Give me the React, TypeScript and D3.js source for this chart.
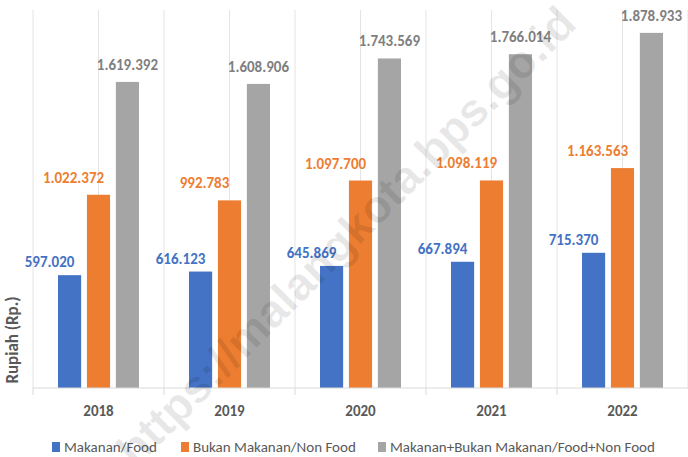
import React from "react";
import * as d3 from "d3";

const years = ["2018", "2019", "2020", "2021", "2022"];
const seriesNames = [
  "Makanan/Food",
  "Bukan Makanan/Non Food",
  "Makanan+Bukan Makanan/Food+Non Food",
];
const food = [597020, 616123, 645869, 667894, 715370];
const nonFood = [1022372, 992783, 1097700, 1098119, 1163563];
const total = [1619392, 1608906, 1743569, 1766014, 1878933];
const labelsFood = ["597.020", "616.123", "645.869", "667.894", "715.370"];
const labelsNonFood = ["1.022.372", "992.783", "1.097.700", "1.098.119", "1.163.563"];
const labelsTotal = ["1.619.392", "1.608.906", "1.743.569", "1.766.014", "1.878.933"];
const yTitle = "Rupiah (Rp.)";
const watermark = "https://malangkota.bps.go.id";

const W = 688;
const H = 457;
const barColors = ["#4472C4", "#ED7D31", "#A5A5A5"];
const labelColors = ["#4472C4", "#ED7D31", "#7F7F7F"];
const labelDx = [-20, -25, 0];
const labelGap = [8, 12, 12];
const FONT = "Carlito, Calibri, 'Liberation Sans Narrow', 'Liberation Sans', sans-serif";

export default function App() {
  const plotLeft = 33;
  const plotRight = 688;
  const plotTop = 10;
  const plotBottom = 388;

  const x = d3.scaleBand<string>().domain(years).range([plotLeft, plotRight]).padding(0);
  const bw = x.bandwidth();
  const inner = d3
    .scaleBand<number>()
    .domain([0, 1, 2])
    .range([bw / 2 - 40.5, bw / 2 + 40.5])
    .paddingInner(0.2)
    .paddingOuter(0);
  const y = d3.scaleLinear().domain([0, 2000000]).range([plotBottom, plotTop]);

  const series = [food, nonFood, total];
  const labels = [labelsFood, labelsNonFood, labelsTotal];

  const gridXs: number[] = [];
  years.forEach((yr) => {
    gridXs.push(x(yr)!);
    gridXs.push(x(yr)! + bw / 2);
  });
  gridXs.push(plotRight);

  const legendItems = [
    { x: 52, label: seriesNames[0] },
    { x: 181, label: seriesNames[1] },
    { x: 378, label: seriesNames[2] },
  ];

  return (
    <svg
      width={W}
      height={H}
      style={{ position: "absolute", left: 0, top: 0, background: "#fff" }}
      fontFamily={FONT}
    >
      <rect width={W} height={H} fill="#fff" />
      {gridXs.map((gx, i) => (
        <line key={i} x1={gx} x2={gx} y1={plotTop} y2={plotBottom} stroke="#E4E4E4" strokeWidth={1} />
      ))}
      {series.map((vals, si) =>
        vals.map((v, i) => {
          const bx = x(years[i])! + inner(si)!;
          return (
            <rect
              key={`b${si}-${i}`}
              x={bx}
              y={y(v)}
              width={inner.bandwidth()}
              height={plotBottom - y(v)}
              fill={barColors[si]}
            />
          );
        })
      )}
      <line x1={plotLeft} x2={plotRight} y1={plotBottom} y2={plotBottom} stroke="#D9D9D9" strokeWidth={1} />
      {years.map((yr) => (
        <line key={`t${yr}`} x1={x(yr)!} x2={x(yr)!} y1={plotBottom} y2={plotBottom + 7} stroke="#D9D9D9" />
      ))}
      {series.map((vals, si) =>
        vals.map((v, i) => {
          const cx = x(years[i])! + inner(si)! + inner.bandwidth() / 2 + labelDx[si];
          return (
            <text
              key={`l${si}-${i}`}
              x={cx}
              y={y(v) - labelGap[si]}
              textAnchor="middle"
              fontSize={15}
              fontWeight="bold"
              fill={labelColors[si]}
            >
              {labels[si][i]}
            </text>
          );
        })
      )}
      {years.map((yr) => (
        <text
          key={`c${yr}`}
          x={x(yr)! + bw / 2}
          y={416}
          textAnchor="middle"
          fontSize={15}
          fontWeight="bold"
          fill="#595959"
        >
          {yr}
        </text>
      ))}
      <text
        transform={`translate(18,340) rotate(-90)`}
        textAnchor="middle"
        fontSize={17}
        fontWeight="bold"
        fill="#595959"
      >
        {yTitle}
      </text>
      {legendItems.map((it, i) => (
        <g key={`lg${i}`}>
          <rect x={it.x} y={442} width={8} height={10} fill={barColors[i]} />
          <text x={it.x + 12} y={452} fontSize={15} fill="#595959">
            {it.label}
          </text>
        </g>
      ))}
      <text
        transform="translate(346,236) rotate(-45)"
        textAnchor="middle"
        dominantBaseline="central"
        fontSize={46}
        fontWeight="bold"
        fontFamily="'Liberation Sans', Arial, sans-serif"
        fill="#000"
        fillOpacity={0.09}
      >
        {watermark}
      </text>
    </svg>
  );
}
